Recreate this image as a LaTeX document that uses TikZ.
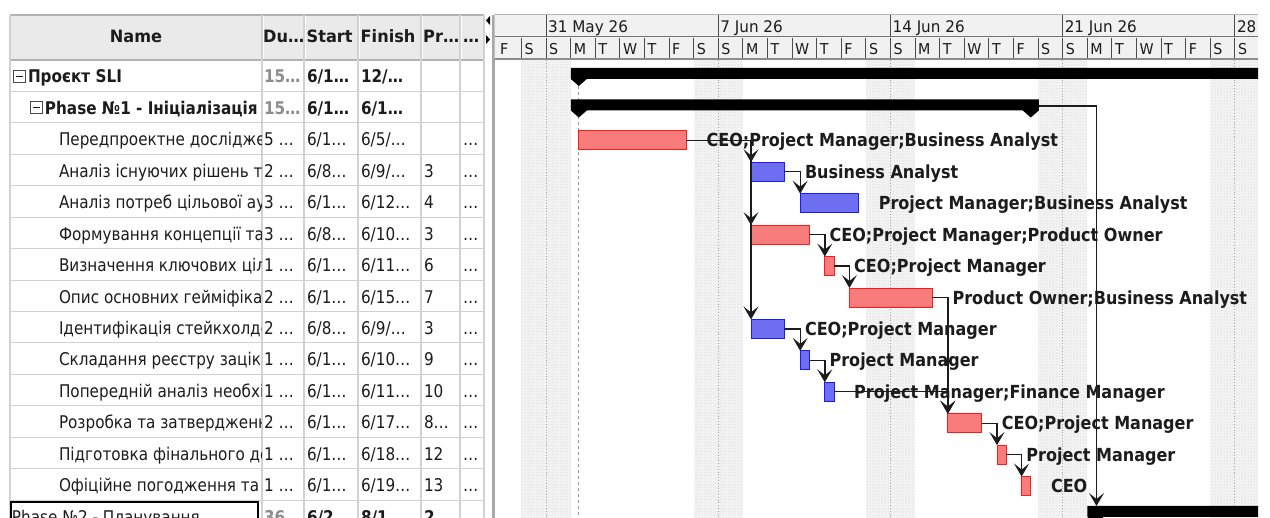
\documentclass[tikz,border=0pt]{standalone}
\usepackage{fontspec}
\setmainfont{DejaVu Sans}[FakeStretch=0.87]
\newfontfamily\hdrfont{DejaVu Sans}[FakeStretch=0.95]
\newfontfamily\resfont{DejaVu Sans}[FakeStretch=0.89]
\usetikzlibrary{arrows.meta,patterns}

\definecolor{gridline}{HTML}{D2D2D2}
\definecolor{headbg}{HTML}{EAEAEA}
\definecolor{ganttbg}{HTML}{F1F1F1}
\definecolor{weekend}{HTML}{F3F3F3}
\definecolor{barred}{HTML}{F97C7C}
\definecolor{barredline}{HTML}{FF1A1A}
\definecolor{barblue}{HTML}{6E6EF2}
\definecolor{barblueline}{HTML}{1A1AFF}
\definecolor{dimtext}{HTML}{8C8C8C}
\definecolor{ink}{HTML}{1C1C1C}
\definecolor{splitter}{HTML}{A8A8A8}

% x position of day d (d=0 is Mon 1 Jun) at hour h
\newcommand\dayx[2]{570.6+24.6*(#1+#2/24)}

% one row of the task table
\newcommand\tablerow[8]{%
  \pgfmathsetmacro\yb{60+#1*31.43+23}
  \begin{scope}
    \clip (10,\yb-25) rectangle (261,\yb+8);
    \node[cellt] (name#1) at (#2,\yb) {#3};
  \end{scope}
  \node[cellt] (du#1) at (264,\yb) {#4};
  \node[cellt] (st#1) at (307,\yb) {#5};
  \node[cellt] (fi#1) at (361,\yb) {#6};
  \node[cellt] (pr#1) at (424,\yb) {#7};
  \node[cellt] (mo#1) at (463,\yb) {#8};
}

% collapse box in the name column
\newcommand\minusbox[3]{%
  \node[draw=ink!80, line width=1pt, minimum size=12pt, inner sep=0pt] (#1) at (#2,#3) {};
  \draw[ink, line width=1pt] ([xshift=3pt]#1.west) -- ([xshift=-3pt]#1.east);
}

% task bar: name, row, x start, x end, style
\newcommand\taskbar[5]{%
  \pgfmathsetmacro\yt{60+#2*31.43+8}
  \pgfmathsetmacro\bw{#4-#3}
  \node[#5, minimum width=\bw pt, anchor=north west] (#1) at (#3,\yt) {};
}

% summary bar with pointed ends: top y, start x, end x
\newcommand\summarybar[3]{%
  \fill[black] (#2-8,#1) -- (#3+8,#1) -- (#3+8,#1+11) -- (#3,#1+18) -- (#3-8,#1+11)
    -- (#2+8,#1+11) -- (#2,#1+18) -- (#2-8,#1+11) -- cycle;
}

\begin{document}
\begin{tikzpicture}[x=1pt,y=-1pt,
  cellt/.style={anchor=base west, inner sep=0pt, outer sep=0pt, text=ink,
    font=\fontsize{17.5}{19}\selectfont},
  hdrt/.style={anchor=base west, inner sep=0pt, text=ink,
    font=\hdrfont\bfseries\fontsize{17}{19}\selectfont},
  scalet/.style={anchor=base west, inner sep=0pt, text=ink,
    font=\hdrfont\fontsize{16}{18}\selectfont},
  resl/.style={anchor=base west, inner sep=0pt, text=ink,
    font=\resfont\bfseries\fontsize{18}{20}\selectfont},
  redbar/.style={draw=barredline, fill=barred, line width=1pt, inner sep=0pt,
    outer sep=0pt, minimum height=19pt},
  bluebar/.style={draw=barblueline, fill=barblue, line width=1pt, inner sep=0pt,
    outer sep=0pt, minimum height=19pt},
  depline/.style={draw=ink, line width=1.4pt,
    -{Stealth[length=13pt,width=15pt,inset=6pt]}},
  weekline/.style={draw=black!35, line width=0.8pt, dotted},
]
\useasboundingbox (0,0) rectangle (1270,518);
\clip (0,0) rectangle (1270,518);
\fill[white] (0,0) rectangle (1270,518);

% ---------------- table ----------------
\fill[headbg] (10,15) rectangle (484,60);
\foreach \r in {1,...,15}
  \draw[gridline, line width=1pt] (10,{60+\r*31.43}) -- (484,{60+\r*31.43});
\draw[black!30, line width=1.2pt] (10,15) -- (484,15);
\draw[black!30, line width=1.2pt] (10,60) -- (484,60);
\foreach \cx in {10,262,304,358,421,460,484}
  \draw[gridline, line width=1.2pt] (\cx,15) -- (\cx,518);
\foreach \cx in {263.5,305.5,359.5,422.5,461.5}
  \draw[white, line width=0.8pt] (\cx,16) -- (\cx,59);

\node[hdrt, anchor=base] (hname) at (136,43) {Name};
\node[hdrt] (hdu) at (263,43) {Du…};
\node[hdrt] (hst) at (306.5,43) {Start};
\node[hdrt] (hfi) at (360.5,43) {Finish};
\node[hdrt] (hpr) at (423,43) {Pr…};
\node[hdrt] (hmo) at (463,43) {…};

\minusbox{box0}{19.5}{76.5}
\minusbox{box1}{36.5}{108}
\tablerow{0}{28}{\bfseries Проєкт SLI}{\bfseries\color{dimtext}15…}{\bfseries 6/1…}{\bfseries 12/…}{}{}
\tablerow{1}{45}{\bfseries Phase №1 - Ініціалізація}{\bfseries\color{dimtext}15…}{\bfseries 6/1…}{\bfseries 6/1…}{}{}
\tablerow{2}{59}{Передпроектне дослідження}{5 …}{6/1…}{6/5/…}{}{…}
\tablerow{3}{59}{Аналіз існуючих рішень та}{2 …}{6/8…}{6/9/…}{3}{…}
\tablerow{4}{59}{Аналіз потреб цільової ауд}{3 …}{6/1…}{6/12…}{4}{…}
\tablerow{5}{59}{Формування концепції та}{3 …}{6/8…}{6/10…}{3}{…}
\tablerow{6}{59}{Визначення ключових цілей}{1 …}{6/1…}{6/11…}{6}{…}
\tablerow{7}{59}{Опис основних геймiфікацій}{2 …}{6/1…}{6/15…}{7}{…}
\tablerow{8}{59}{Ідентифікація стейкхолдерів}{2 …}{6/8…}{6/9/…}{3}{…}
\tablerow{9}{59}{Складання реєстру зацікав}{1 …}{6/1…}{6/10…}{9}{…}
\tablerow{10}{59}{Попередній аналіз необхідн}{1 …}{6/1…}{6/11…}{10}{…}
\tablerow{11}{59}{Розробка та затвердження}{2 …}{6/1…}{6/17…}{8…}{…}
\tablerow{12}{59}{Підготовка фінального док}{1 …}{6/1…}{6/18…}{12}{…}
\tablerow{13}{59}{Офіційне погодження та}{1 …}{6/1…}{6/19…}{13}{…}
\tablerow{14}{12}{Phase №2 - Планування}{\bfseries\color{dimtext}36…}{\bfseries 6/2…}{\bfseries 8/1…}{\bfseries 2}{}
\draw[black, line width=1.3pt] (11,502) rectangle (258,525);

% ---------------- splitter ----------------
\draw[splitter, line width=3pt] (493,15) -- (493,518);
\fill[black] (490,16) -- (490,25) -- (486,20.5) -- cycle;
\fill[black] (486,35) -- (486,44) -- (490,39.5) -- cycle;

% ---------------- gantt ----------------
\begin{scope}
\clip (494.5,14) rectangle (1258,518);
\fill[ganttbg] (494,15) rectangle (1258,59);
% weekends
\foreach \d in {-2,5,12,19,26}{
  \fill[weekend] ({\dayx{\d}{0}},60) rectangle ({\dayx{\d+2}{0}},518);
  \fill[pattern=dots, pattern color=black!22] ({\dayx{\d}{0}},60) rectangle ({\dayx{\d+2}{0}},518);
}
\foreach \d in {-1,6,13,20,27}
  \draw[weekline] ({\dayx{\d}{0}},60) -- ({\dayx{\d}{0}},518);
% project start line
\draw[black!40, line width=1pt, dash pattern=on 3pt off 3pt] ({\dayx{0}{8}},86) -- ({\dayx{0}{8}},518);

% timescale
\draw[black!55, line width=1pt] (494,37) -- (1258,37);
\draw[black!45, line width=2pt] (494,59) -- (1258,59);
\draw[black!30, line width=1pt] (494,15) -- (1258,15);
\foreach \d/\t [count=\k] in {-1/31 May 26,6/7 Jun 26,13/14 Jun 26,20/21 Jun 26,27/28 Jun 26}{
  \draw[black!70, line width=1pt] ({\dayx{\d}{0}},15) -- ({\dayx{\d}{0}},37);
  \node[scalet] (wk\k) at ({\dayx{\d}{0}+2},33) {\t};
}
\foreach \L [count=\i from -3] in {F,S,S,M,T,W,T,F,S,S,M,T,W,T,F,S,S,M,T,W,T,F,S,S,M,T,W,T,F,S,S}{
  \ifnum\i>-3 \draw[black!70, line width=1pt] ({\dayx{\i}{0}},38) -- ({\dayx{\i}{0}},58); \fi
  \node[scalet, font=\hdrfont\fontsize{15}{17}\selectfont] (day\i) at ({\dayx{\i}{0}+3},55) {\L};
}

% summary bars
\summarybar{68}{578.8}{1500}
\summarybar{99.5}{578.8}{1030.8}
\summarybar{506}{1095.4}{1600}
\coordinate (p1end) at (1039,106);
\coordinate (p2in) at (1096.5,506);

% task bars
\taskbar{t1}{2}{578.8}{686.4}{redbar}
\taskbar{t2}{3}{751.0}{784.8}{bluebar}
\taskbar{t3}{4}{800.2}{858.6}{bluebar}
\taskbar{t4}{5}{751.0}{809.4}{redbar}
\taskbar{t5}{6}{824.8}{834.0}{redbar}
\taskbar{t6}{7}{849.4}{932.4}{redbar}
\taskbar{t7}{8}{751.0}{784.8}{bluebar}
\taskbar{t8}{9}{800.2}{809.4}{bluebar}
\taskbar{t9}{10}{824.8}{834.0}{bluebar}
\taskbar{t10}{11}{947.8}{981.6}{redbar}
\taskbar{t11}{12}{997.0}{1006.2}{redbar}
\taskbar{t12}{13}{1021.6}{1030.8}{redbar}

% dependencies
\draw[depline] (t1.east) -| (t2.north west);
\draw[depline] (t1.east) -| (t4.north west);
\draw[depline] (t1.east) -| (t7.north west);
\draw[depline] (t2.east) -| (t3.north west);
\draw[depline] (t4.east) -| (t5.north west);
\draw[depline] (t5.east) -| (t6.north west);
\draw[depline] (t6.east) -| (t10.north west);
\draw[depline] (t7.east) -| (t8.north west);
\draw[depline] (t8.east) -| (t9.north west);
\draw[depline] (t9.east) -| (t10.north west);
\draw[depline] (t10.east) -| (t11.north west);
\draw[depline] (t11.east) -| (t12.north west);
\draw[depline] (p1end) -| (p2in);

% resource labels
\foreach \t/\s in {t1/CEO;Project Manager;Business Analyst,
                   t2/Business Analyst,
                   t3/Project Manager;Business Analyst,
                   t4/CEO;Project Manager;Product Owner,
                   t5/CEO;Project Manager,
                   t6/Product Owner;Business Analyst,
                   t7/CEO;Project Manager,
                   t8/Project Manager,
                   t9/Project Manager;Finance Manager,
                   t10/CEO;Project Manager,
                   t11/Project Manager,
                   t12/CEO}
  \node[resl] (res\t) at ([xshift=20pt,yshift=-6.5pt]\t.east) {\s};
\end{scope}
\end{tikzpicture}
\end{document}
